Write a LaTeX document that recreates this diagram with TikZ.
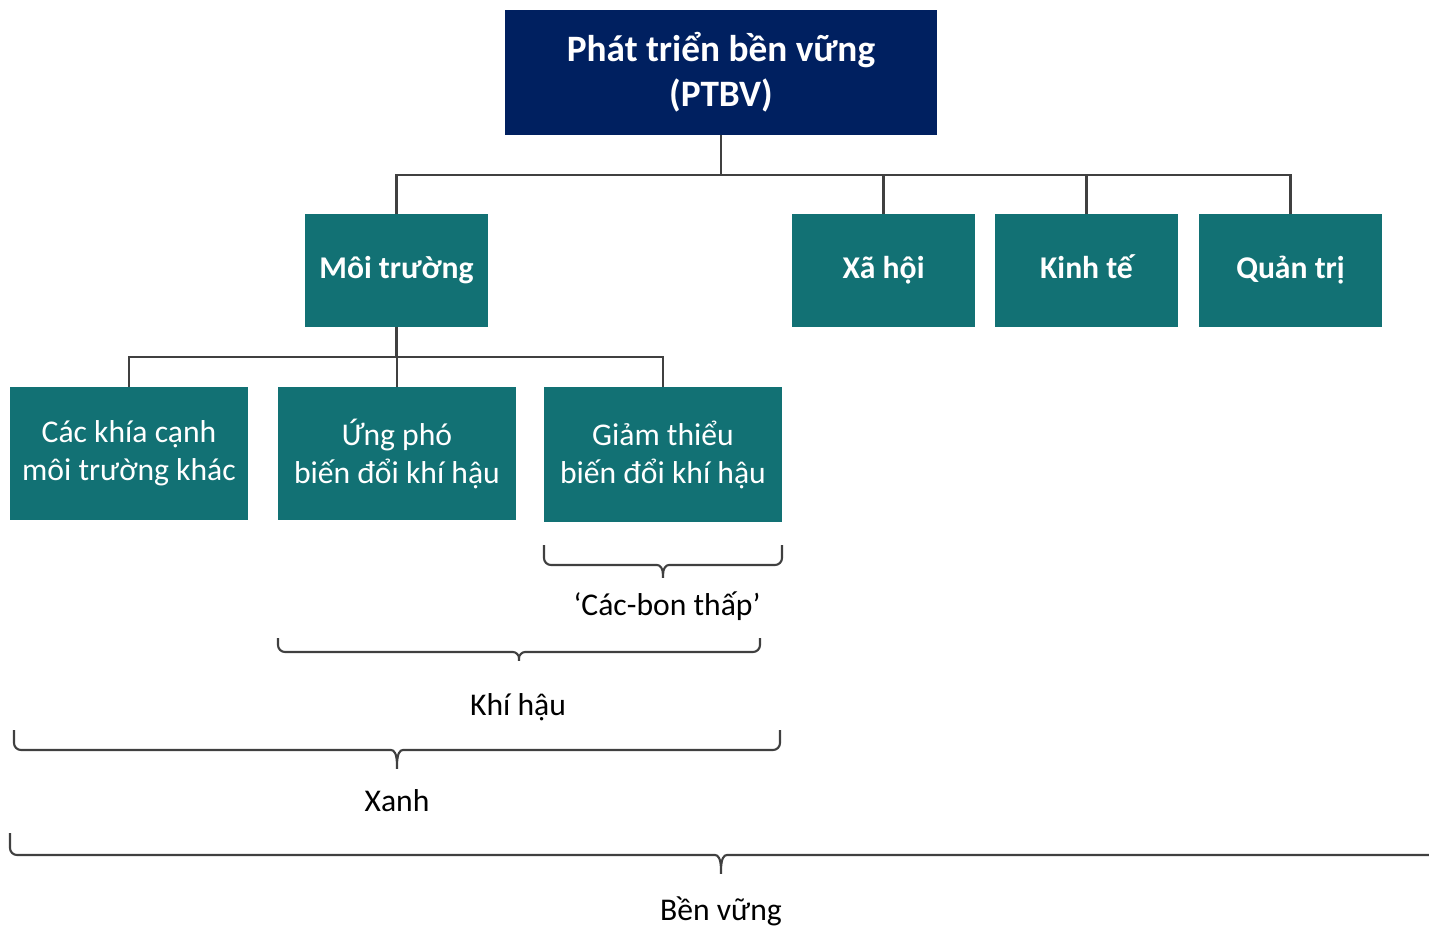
\documentclass[tikz,border=0pt]{standalone}
\usepackage{fontspec}
\setmainfont{Carlito}
\definecolor{navy}{HTML}{002060}
\definecolor{teal}{HTML}{127174}
\definecolor{linegray}{HTML}{404040}
% horizontal curly brace: x1, x2, xmid, ytop, yline, ytip
\newcommand{\curlyb}[6]{%
  \draw[brc] (#1,#4) |- (#3-13,#5) .. controls (#3-3,#5) and (#3,#5+3) .. (#3,#6)
    .. controls (#3,#5+3) and (#3+3,#5) .. (#3+13,#5) -| (#2,#4);}
\begin{document}
\begin{tikzpicture}[x=0.025cm, y=-0.025cm,
    top/.style={fill=navy, text=white, inner sep=0, minimum width=432*0.025cm, minimum height=125*0.025cm, align=center, font=\fontsize{26.5}{32}\selectfont\bfseries},
    mid/.style={fill=teal, text=white, inner sep=0, minimum width=183*0.025cm, minimum height=113*0.025cm, text height=1.2em, text depth=0em, align=center, font=\fontsize{22.5}{27}\selectfont\bfseries},
    low/.style={fill=teal, text=white, inner sep=0, minimum width=238*0.025cm, minimum height=133*0.025cm, align=center, font=\fontsize{22.5}{27}\selectfont},
    lbl/.style={font=\fontsize{22.5}{27}\selectfont, inner sep=0, text height=1.2em, text depth=0em},
    link/.style={draw=linegray, line width=1.5pt},
    brc/.style={draw=linegray, line width=1.5pt, rounded corners=5}
]
\useasboundingbox (0,0) rectangle (1429,930);

\node[top] (ptbv)   at (721, 72.5)   {Phát triển bền vững\\(PTBV)};
\node[mid] (moi)    at (396.5, 270.5) {Môi trường};
\node[mid] (xahoi)  at (883.5, 270.5) {Xã hội};
\node[mid] (kinhte) at (1086.5, 270.5) {Kinh tế};
\node[mid] (quantri) at (1290.5, 270.5) {Quản trị};
\node[low] (khac)   at (129, 453.5)  {Các khía cạnh\\môi trường khác};
\node[low] (ungpho) at (397, 453.5)  {Ứng phó\\biến đổi khí hậu};
\node[low, minimum height=135*0.025cm] (giam) at (663, 454.5) {Giảm thiểu\\biến đổi khí hậu};

\draw[link] (ptbv.south) -- ++(0,40) coordinate (bus1);
\foreach \n in {moi, xahoi, kinhte, quantri}
  \draw[link] (bus1) -| (\n.north);
\draw[link] (moi.south) -- ++(0,30) coordinate (bus2);
\foreach \n in {khac, ungpho, giam}
  \draw[link] (bus2) -| (\n.north);

\curlyb{544}{782}{663}{545}{565}{582}
\curlyb{278}{760}{519}{638}{652}{665}
\curlyb{14}{780}{397}{730}{750}{773}
\curlyb{10}{1440}{721}{833}{855}{878}

\node[lbl] (cacbon) at (667, 607) {‘Các-bon thấp’};
\node[lbl] (khihau) at (518, 707) {Khí hậu};
\node[lbl] (xanh)   at (397, 803) {Xanh};
\node[lbl] (benvung) at (721, 912) {Bền vững};
\end{tikzpicture}
\end{document}
